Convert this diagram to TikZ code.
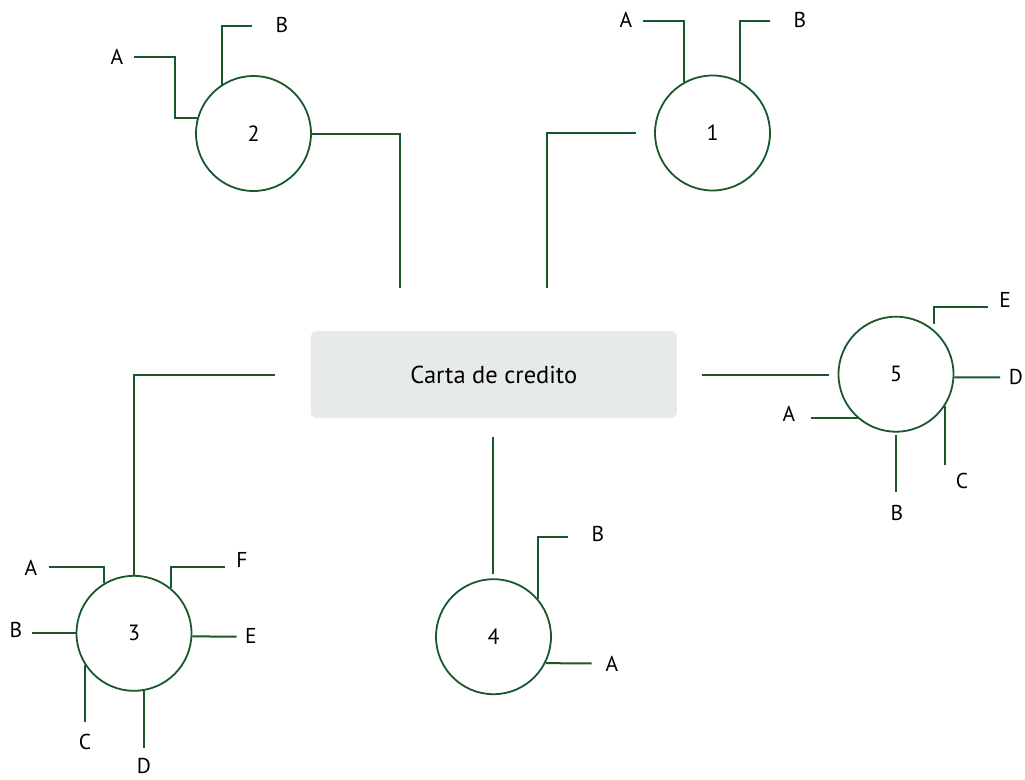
\documentclass[tikz,border=0pt]{standalone}
\usepackage{fontspec}
\setmainfont{PT Sans}
\usetikzlibrary{calc}
\definecolor{lnk}{RGB}{24,88,44}
\definecolor{boxfill}{RGB}{230,235,231}
\begin{document}
\begin{tikzpicture}[x=1pt,y=-1pt,
  link/.style={draw=lnk,line width=2pt},
  hub/.style={circle,draw=lnk,line width=1.8pt,minimum size=115pt,inner sep=0pt,font=\fontsize{22}{24}\selectfont},
  lbl/.style={inner sep=0pt,font=\fontsize{21.5}{24}\selectfont},
  mainbox/.style={rectangle,rounded corners=6pt,fill=boxfill,minimum width=366pt,minimum height=87pt,font=\fontsize{24.5}{26}\selectfont}]
\useasboundingbox (0,0) rectangle (1025,779);
% central box
\node[mainbox] (box) at (493.8,374.7) {Carta de credito};
% hubs
\node[hub] (c1) at (712.5,133) {1};
\node[hub] (c2) at (253.5,133.5) {2};
\node[hub] (c3) at (134,633.3) {3};
\node[hub] (c4) at (493.5,636.7) {4};
\node[hub] (c5) at (896,374.2) {5};
% labels
\node[lbl] (l2a) at (117,57) {A};
\node[lbl] (l2b) at (282,25) {B};
\node[lbl] (l1a) at (626,20) {A};
\node[lbl] (l1b) at (800,20) {B};
\node[lbl] (l5e) at (1005,300) {E};
\node[lbl] (l5d) at (1016,377) {D};
\node[lbl] (l5c) at (962,481) {C};
\node[lbl] (l5b) at (897,513) {B};
\node[lbl] (l5a) at (789,414) {A};
\node[lbl] (l3a) at (31,568) {A};
\node[lbl] (l3f) at (242,560) {F};
\node[lbl] (l3b) at (16,630) {B};
\node[lbl] (l3e) at (251,636) {E};
\node[lbl] (l3c) at (85,742) {C};
\node[lbl] (l3d) at (144,766) {D};
\node[lbl] (l4b) at (598,534) {B};
\node[lbl] (l4a) at (612,664) {A};
% free ends
\coordinate (e2a) at (134,57);
\coordinate (e2b) at (251.7,26);
\coordinate (k2) at (400,288);
\coordinate (e1a) at (643.3,21);
\coordinate (e1b) at (770,21);
\coordinate (s1) at (636,133);
\coordinate (k1) at (547.3,288);
\coordinate (s5) at (701.7,375);
\coordinate (t5) at (829.3,375);
\coordinate (e5e) at (988.3,307.3);
\coordinate (f5e) at (934.3,324.3);
\coordinate (e5d) at (1000,377.3);
\coordinate (e5c) at (944.3,465);
\coordinate (e5b) at (896,492.3);
\coordinate (e5a) at (810.7,418.3);
\coordinate (s3) at (275,375);
\coordinate (e3a) at (49.3,567.3);
\coordinate (e3f) at (225,567.3);
\coordinate (e3b) at (31.7,633.3);
\coordinate (e3e) at (236.7,636.7);
\coordinate (e3c) at (85.7,721.7);
\coordinate (e3d) at (144,748.3);
\coordinate (s4) at (492.7,436.7);
\coordinate (t4) at (492.7,574);
\coordinate (e4b) at (568.3,536.7);
\coordinate (e4a) at (591.7,663.3);
% circle 2
\draw[link] (e2a) -- ++(41,0) |- (c2.165);
\draw[link] (e2b) -| (c2.123);
\draw[link] (c2.east) -| (k2);
% circle 1
\draw[link] (e1a) -| (c1.119);
\draw[link] (e1b) -| (c1.62);
\draw[link] (s1) -| (k1);
% circle 5
\draw[link] (s5) -- (t5);
\draw[link] (e5e) -| (f5e);
\draw[link] (c5.-3) -- (e5d);
\draw[link] (c5.-33) -- (c5.-33 |- e5c);
\draw[link] (c5.south) ++(0,2.5) -- (e5b);
\draw[link] (e5a) -- (e5a -| c5.-130);
% circle 3
\draw[link] (s3) -| (c3.north);
\draw[link] (e3a) -| (c3.121);
\draw[link] (e3f) -| (c3.51);
\draw[link] (e3b) -- (c3.west);
\draw[link] (c3.-3) -- (e3e);
\draw[link] (c3.-147) -- (c3.-147 |- e3c);
\draw[link] (c3.-80) -- (c3.-80 |- e3d);
% circle 4
\draw[link] (s4) -- (t4);
\draw[link] (e4b) -| (c4.40);
\draw[link] (c4.-27.5) -- (e4a);
\end{tikzpicture}
\end{document}
